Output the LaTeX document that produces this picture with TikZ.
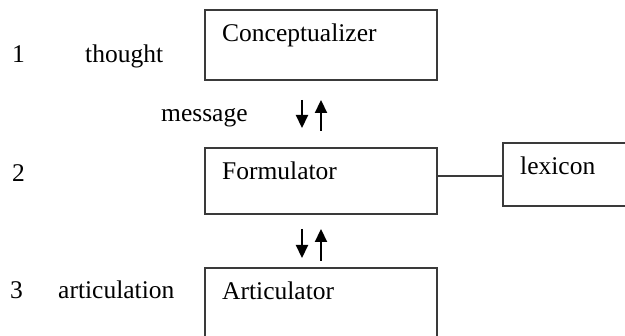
\documentclass[tikz,border=0pt]{standalone}
\usepackage{fontspec}
\setmainfont{Liberation Serif}
\usetikzlibrary{arrows.meta}
\definecolor{linegray}{HTML}{3A3A3A}
\tikzset{
  box/.style={draw=linegray, line width=2pt, rectangle, inner sep=0pt, outer sep=0pt, anchor=north west},
  lbl/.style={anchor=base west, inner sep=0pt, font=\fontsize{25.5}{29}\selectfont, text=black},
  updown/.style={line width=2.2pt, draw=black, -{Triangle[width=12pt,length=13pt]}}
}
\begin{document}
\begin{tikzpicture}[x=1pt,y=-1pt]
\useasboundingbox (0,0) rectangle (625,336);
% boxes
\node[box, minimum width=232pt, minimum height=70pt] (con) at (205,10) {};
\node[box, minimum width=232pt, minimum height=66pt] (form) at (205,148) {};
\node[box, minimum width=232pt, minimum height=74pt] (art) at (205,268) {};
\node[box, minimum width=125pt, minimum height=63pt] (lex) at (503,143) {};
% labels
\node[lbl] (t1) at (12,63) {1};
\node[lbl] (thought) at (85,63) {thought};
\node[lbl] (contxt) at (222,42) {Conceptualizer};
\node[lbl] (msg) at (161,122) {message};
\node[lbl] (t2) at (12,182) {2};
\node[lbl] (formtxt) at (222,180) {Formulator};
\node[lbl] (lextxt) at (520,175) {lexicon};
\node[lbl] (t3) at (10,299) {3};
\node[lbl] (artic) at (58,299) {articulation};
\node[lbl] (arttxt) at (222,300) {Articulator};
% connector to lexicon
\draw[draw=linegray, line width=1.6pt] (form.east |- 0,176) -- (lex.west |- 0,176);
% arrows
\coordinate (a1s) at (302,100); \coordinate (a1e) at (302,128);
\coordinate (a2s) at (321,131); \coordinate (a2e) at (321,100);
\coordinate (b1s) at (302,229); \coordinate (b1e) at (302,258);
\coordinate (b2s) at (321,261); \coordinate (b2e) at (321,229);
\draw[updown] (a1s) -- (a1e);
\draw[updown] (a2s) -- (a2e);
\draw[updown] (b1s) -- (b1e);
\draw[updown] (b2s) -- (b2e);
\end{tikzpicture}
\end{document}
